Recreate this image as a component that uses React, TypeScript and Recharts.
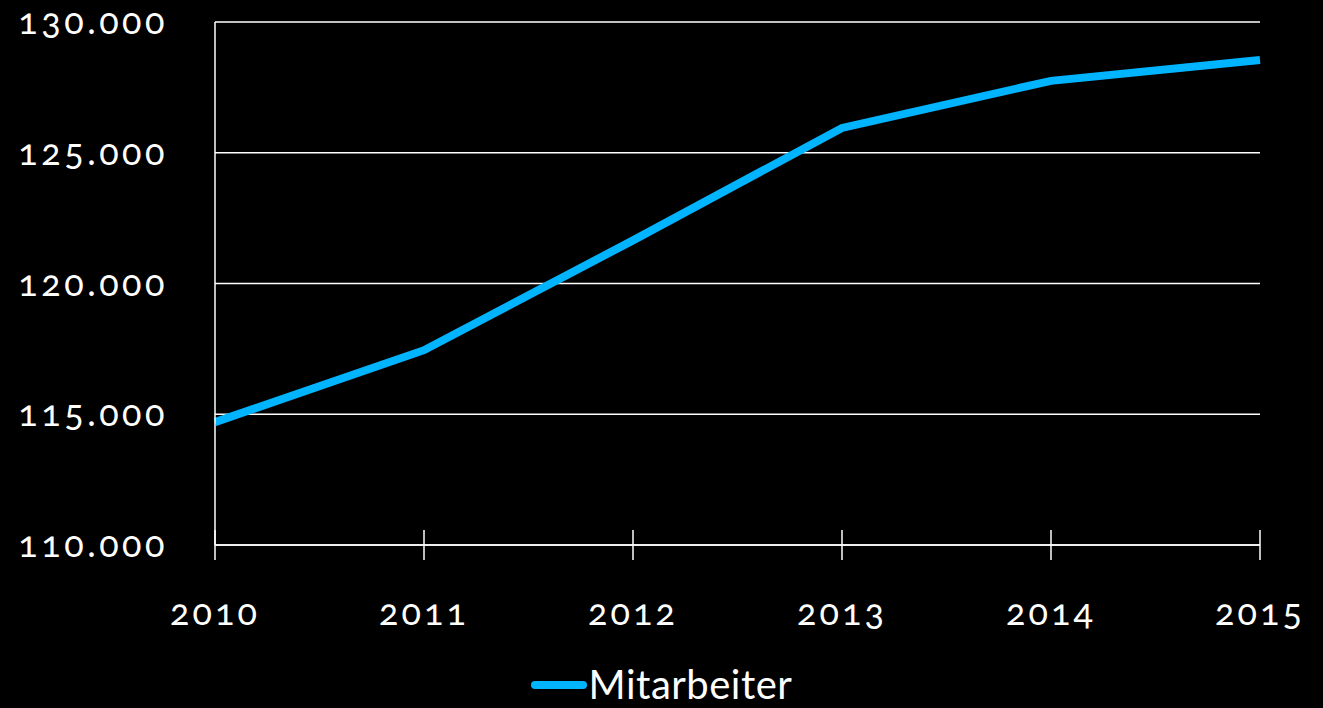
import { LineChart, Line, XAxis, YAxis, CartesianGrid } from 'recharts';

const years = ['2010', '2011', '2012', '2013', '2014', '2015'];
const mitarbeiter = [114700, 117450, 121650, 125950, 127750, 128550];
const yTicks = [110000, 115000, 120000, 125000, 130000];

const data = years.map((year, i) => ({ year, mitarbeiter: mitarbeiter[i] }));

const LINE_COLOR = '#00B4FF';
const FONT = 'Lato, "Open Sans", sans-serif';

// German thousands separator
const formatNumber = (v: number) => v.toLocaleString('de-DE');

// x ticks cross the axis line, label below
const XTick = ({ x, y, payload }: any) => (
  <g>
    <line x1={x} x2={x} y1={y - 15} y2={y + 15} stroke="#fff" strokeWidth={1.5} />
    <text
      x={x}
      y={y + 80}
      textAnchor="middle"
      fill="#fff"
      fontSize={36}
      fontFamily={FONT}
      letterSpacing={3}
      style={{ fontVariantNumeric: 'oldstyle-nums' }}
    >
      {payload.value}
    </text>
  </g>
);

const YTick = ({ x, y, payload }: any) => (
  <text
    x={x}
    y={y + 12}
    textAnchor="end"
    fill="#fff"
    fontSize={36}
    fontFamily={FONT}
    letterSpacing={3.5}
    style={{ fontVariantNumeric: 'oldstyle-nums' }}
  >
    {formatNumber(payload.value)}
  </text>
);

const LegendContent = () => (
  <div
    style={{
      display: 'flex',
      alignItems: 'center',
      justifyContent: 'center',
      fontFamily: FONT,
      fontSize: 40,
      letterSpacing: 0.5,
      color: '#fff',
      lineHeight: '44px',
    }}
  >
    <svg width={56} height={12} style={{ marginRight: 2, marginTop: 2 }}>
      <line x1={4} x2={52} y1={6} y2={6} stroke={LINE_COLOR} strokeWidth={8} strokeLinecap="round" />
    </svg>
    <span>Mitarbeiter</span>
  </div>
);

export default function App() {
  return (
    <div style={{ position: 'absolute', left: 0, top: 0, width: 1323, height: 708, background: '#000' }}>
      <LineChart
        width={1323}
        height={708}
        data={data}
        margin={{ top: 22, right: 63, left: 0, bottom: 0 }}
      >
        <CartesianGrid vertical={false} stroke="#fff" strokeWidth={1.5} />
        <XAxis
          dataKey="year"
          stroke="#fff"
          strokeWidth={1.5}
          tickLine={false}
          tickSize={0}
          tickMargin={0}
          height={163}
          tick={<XTick />}
        />
        <YAxis
          domain={[110000, 130000]}
          ticks={yTicks}
          width={215}
          stroke="#fff"
          strokeWidth={1.5}
          tickLine={false}
          tickSize={0}
          tickMargin={47}
          tick={<YTick />}
        />
        <Line
          type="linear"
          dataKey="mitarbeiter"
          stroke={LINE_COLOR}
          strokeWidth={8}
          dot={false}
          isAnimationActive={false}
        />
      </LineChart>
      <div style={{ position: 'absolute', left: 0, width: 1323, top: 662 }}>
        <LegendContent />
      </div>
    </div>
  );
}
